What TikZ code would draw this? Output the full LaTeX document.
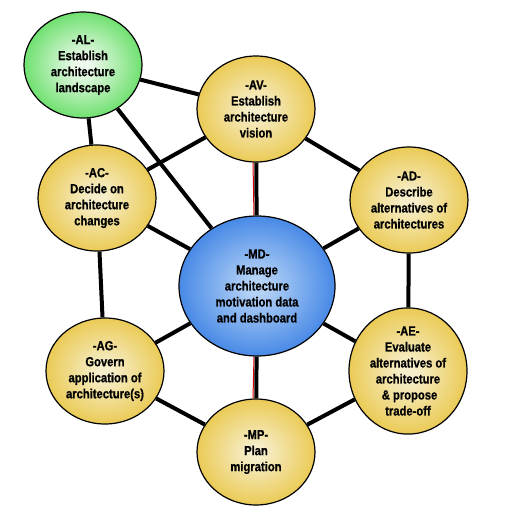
\documentclass[tikz,border=0pt]{standalone}
\usepackage{fontspec}
\setsansfont{Liberation Sans}[FakeStretch=0.85,BoldFeatures={FakeBold=0.8}]
\usetikzlibrary{shapes.geometric}
\definecolor{GoldEdge}{HTML}{E6BC26}
\definecolor{GoldCore}{HTML}{F6EECB}
\definecolor{GreenEdge}{HTML}{3CD63C}
\definecolor{GreenCore}{HTML}{EEFAEE}
\definecolor{BlueEdge}{HTML}{1C6CE0}
\definecolor{BlueCore}{HTML}{B4D2F6}
\pgfdeclareradialshading{goldball}{\pgfpoint{0bp}{0bp}}{color(0bp)=(GoldCore); color(3bp)=(GoldCore); color(34bp)=(GoldEdge); color(50bp)=(GoldEdge)}
\pgfdeclareradialshading{greenball}{\pgfpoint{0bp}{0bp}}{color(0bp)=(GreenCore); color(3bp)=(GreenCore); color(34bp)=(GreenEdge); color(50bp)=(GreenEdge)}
\pgfdeclareradialshading{blueball}{\pgfpoint{0bp}{0bp}}{color(0bp)=(BlueCore); color(3bp)=(BlueCore); color(34bp)=(BlueEdge); color(50bp)=(BlueEdge)}
\begin{document}
\begin{tikzpicture}[x=1pt,y=-1pt,
  every node/.style={font=\sffamily\bfseries\fontsize{13.2}{16}\selectfont, align=center},
  phase/.style={ellipse, draw=black, line width=1.2pt, shading=goldball, minimum width=118pt, minimum height=106pt, inner sep=0pt},
  link/.style={line width=4pt}]
\useasboundingbox (0,0) rectangle (504,509);
\node[phase,shading=greenball] (al) at (83,65) {-AL-\\Establish\\architecture\\landscape};
\node[phase] (av) at (256,109) {-AV-\\Establish\\architecture\\vision};
\node[phase] (ac) at (97,198) {-AC-\\Decide on\\architecture\\changes};
\node[phase] (ad) at (409,200) {-AD-\\Describe\\alternatives of\\architectures};
\node[phase,shading=blueball,minimum width=156pt,minimum height=140pt] (md) at (257,286) {-MD-\\Manage\\architecture\\motivation data\\and dashboard};
\node[phase] (ag) at (105,371) {-AG-\\Govern\\application of\\architecture(s)};
\node[phase] (ae) at (408,371) {-AE-\\Evaluate\\alternatives of\\architecture\\\ \& propose\\trade-off};
\node[phase] (mp) at (256,452) {-MP-\\Plan\\migration};
\draw[red!85!black,line width=1pt] ([xshift=-3pt]av.south) -- ([xshift=-3pt]md.north);
\draw[red!85!black,line width=1pt] ([xshift=-3pt]md.south) -- ([xshift=-3pt]mp.north);
\draw[link] (al) -- (av);
\draw[link] (al) -- (ac);
\draw[link] (al) -- (md);
\draw[link] (av) -- (ac);
\draw[link] (av) -- (md);
\draw[link] (av) -- (ad);
\draw[link] (ac) -- (md);
\draw[link] (ac) -- (ag);
\draw[link] (ad) -- (md);
\draw[link] (ad) -- (ae);
\draw[link] (ag) -- (md);
\draw[link] (ag) -- (mp);
\draw[link] (md) -- (ae);
\draw[link] (md) -- (mp);
\draw[link] (mp) -- (ae);
\end{tikzpicture}
\end{document}
